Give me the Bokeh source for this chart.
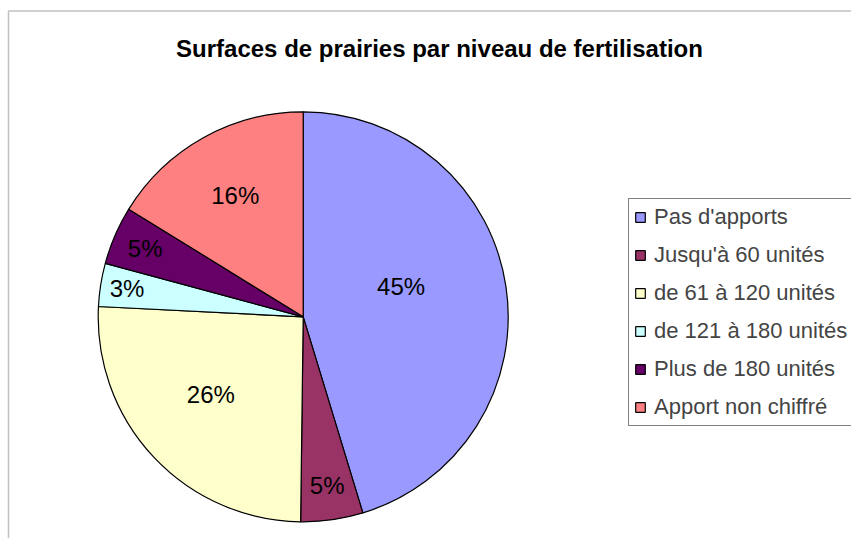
import math
from bokeh.plotting import figure
from bokeh.models import ColumnDataSource, Range1d, Legend, LegendItem, BoxAnnotation
from bokeh.core.properties import value
from bokeh.embed import file_html
from bokeh.resources import INLINE

# ---- data ----
categories = ["Pas d'apports", "Jusqu'à 60 unités", "de 61 à 120 unités",
              "de 121 à 180 unités", "Plus de 180 unités", "Apport non chiffré"]
shares = [45.3, 4.9, 25.6, 3.4, 4.6, 16.2]
colors = ["#9999FF", "#993366", "#FFFFCC", "#CCFFFF", "#660066", "#FF8080"]
title_text = "Surfaces de prairies par niveau de fertilisation"

# label placement (fraction of radius, angular shift in degrees)
label_rfrac = [0.50, 0.83, 0.59, 0.87, 0.84, 0.68]
label_shift = [-8.7, 0.0, 3.0, 0.0, 0.0, 0.0]

W, H = 851, 538
CX, CY, R = 302.7, H - 316.3, 205

total = sum(shares)
starts, ends, lx, ly, labels = [], [], [], [], []
cum = 0.0
for i, s in enumerate(shares):
    a0 = cum / total
    cum += s
    a1 = cum / total
    starts.append(math.pi / 2 - 2 * math.pi * a0)
    ends.append(math.pi / 2 - 2 * math.pi * a1)
    mid = (a0 + a1) / 2 * 360 + label_shift[i]
    th = math.radians(mid)
    lx.append(CX + label_rfrac[i] * R * math.sin(th))
    ly.append(CY + label_rfrac[i] * R * math.cos(th))
    labels.append(f"{round(s / total * 100)}%")

src = ColumnDataSource(dict(cat=categories, start=starts, end=ends, color=colors,
                            x=[CX] * len(shares), y=[CY] * len(shares)))
lsrc = ColumnDataSource(dict(x=lx, y=ly, t=labels))

p = figure(width=W, height=H, output_backend="svg", toolbar_location=None,
           x_range=Range1d(0, W), y_range=Range1d(0, H), min_border=0,
           outline_line_color=None)
p.axis.visible = False
p.grid.visible = False
p.background_fill_color = "white"
p.border_fill_color = "white"

# chart border (left and top visible; rest cropped in the reference)
p.add_layout(BoxAnnotation(left=8, right=W + 50, bottom=-50, top=H - 10.5,
                           fill_color=None, line_color="#333333", line_width=1.5))

r = p.wedge(x="x", y="y", radius=R, radius_units="screen", start_angle="start",
            end_angle="end", direction="clock", fill_color="color",
            line_color="black", line_width=1.2, source=src)

p.text(x="x", y="y", text="t", source=lsrc, text_align="center",
       text_baseline="middle", text_font=value("Liberation Sans"),
       text_font_size="24px", text_color="black")

p.text(x=[439], y=[H - 48.3], text=[title_text], text_align="center",
       text_baseline="alphabetic", text_font=value("Liberation Sans"),
       text_font_size="24px", text_font_style="bold", text_color="black")

items = [LegendItem(label=c, renderers=[r], index=i) for i, c in enumerate(categories)]
legend = Legend(items=items, location=(628, 112), orientation="vertical",
                label_text_font="Liberation Sans", label_text_font_size="22px",
                glyph_width=12, glyph_height=12, label_height=20, label_width=230,
                label_standoff=8, spacing=12, padding=5, margin=0,
                border_line_color="black", border_line_width=1,
                background_fill_color="white", background_fill_alpha=1.0)
p.add_layout(legend, "center")

open("out.html", "w").write(file_html(p, INLINE))
